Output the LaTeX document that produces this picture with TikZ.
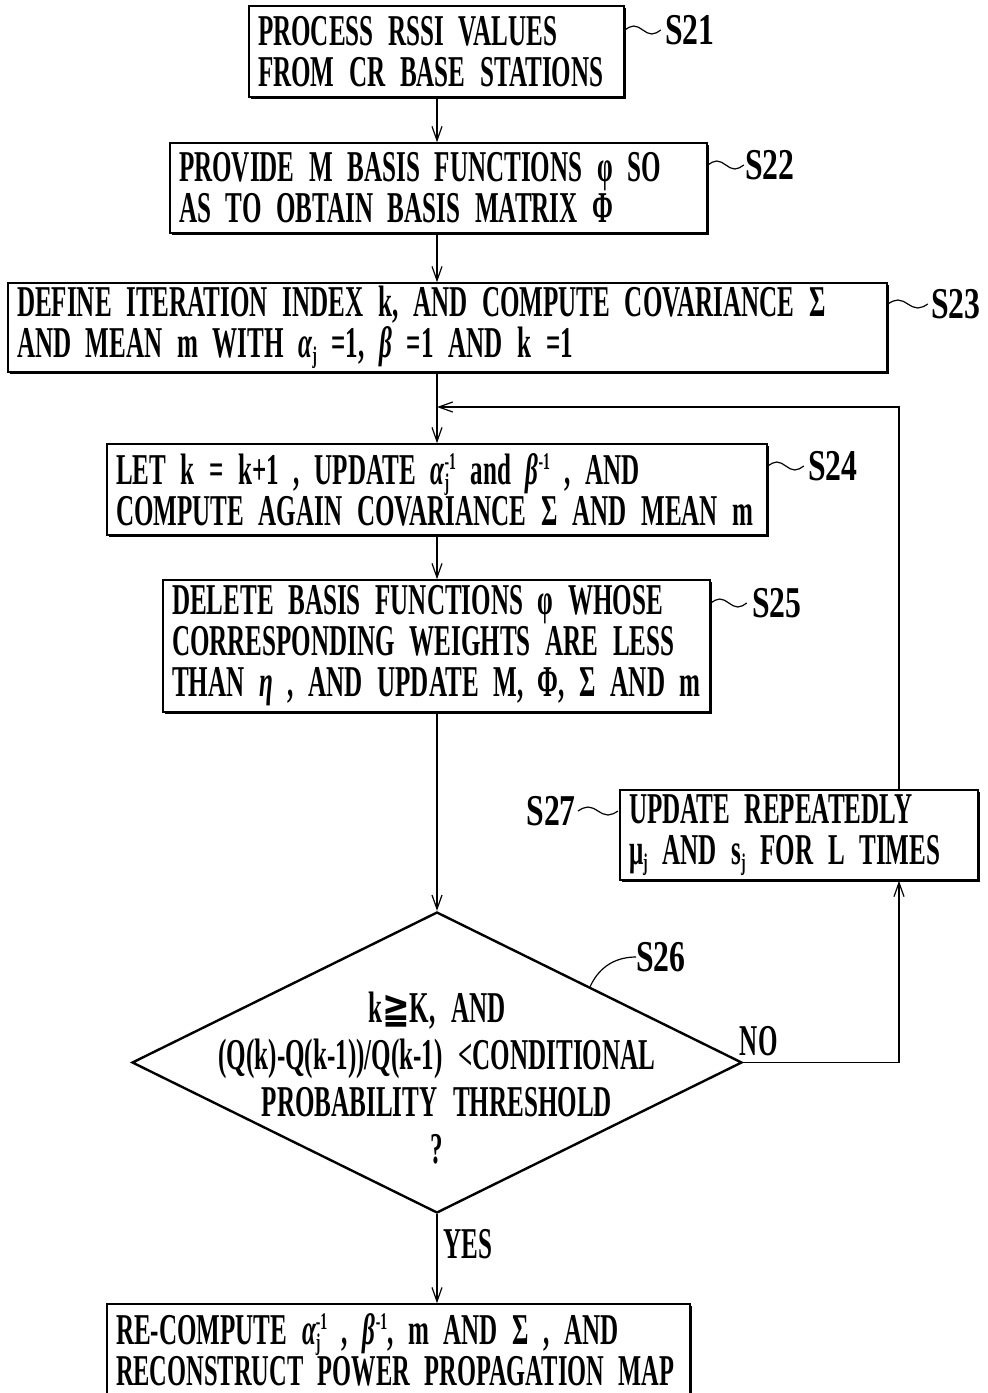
\documentclass[tikz,border=0pt]{standalone}
\usepackage{fontspec}
\usepackage{graphicx}
\usetikzlibrary{arrows.meta,shadows,shapes.geometric}
\newfontfamily\pfont{Liberation Serif}[FakeStretch=0.57,WordSpace=2.5]
\newfontfamily\lfont{Liberation Serif}[FakeStretch=0.72]
\newfontfamily\gfont{DejaVu Sans}[FakeStretch=0.75]
% Greek letters set in the running font
\newcommand\gi[1]{{\itshape #1}}
% small scripts that keep the line pitch
\newcommand\lowidx[1]{\raisebox{-6pt}{\fontsize{24}{24}\selectfont #1}}
\newcommand\hiidx[1]{\raisebox{15pt}{\fontsize{24}{24}\selectfont #1}}
\newcommand\supsub[2]{\rlap{\lowidx{#2}}\hiidx{#1}}
% fixed line pitch regardless of scripts
\newcommand\tightlines{\lineskiplimit=-60pt\relax\lineskip=0pt\relax}
\newcommand\stepfont{\pfont\bfseries\fontsize{44}{41}\selectfont\tightlines}

\begin{document}
\begin{tikzpicture}[x=1pt,y=-1pt,
  lbl/.style={font=\stepfont, inner sep=0pt},
  tag/.style={font=\lfont\bfseries\fontsize{44}{41}\selectfont, inner sep=0pt},
  box/.style={lbl, draw, line width=1.6pt, fill=white, align=left,
    inner xsep=9pt, inner ysep=0pt,
    drop shadow={shadow xshift=2.2pt, shadow yshift=-2.2pt, fill=black, opacity=1}},
  conn/.style={line width=1.2pt},
  arr/.style={conn, -{Straight Barb[length=14pt,width=10pt,line width=1.2pt]}},
  sq/.style={line width=1.2pt},
]
\useasboundingbox (0,0) rectangle (988,1393);
\clip (0,0) rectangle (988,1393);

% main column and loop corners
\coordinate (col) at (437,0);
\coordinate (jn) at (437,407);
\coordinate (lc) at (899,407);

% process boxes
\node[box, text width=357, minimum height=91] (s21) at (436.5,51.5)
  {PROCESS RSSI VALUES\\FROM CR BASE STATIONS};
\node[box, text width=519, minimum height=90] (s22) at (438.5,188)
  {PROVIDE M BASIS FUNCTIONS φ SO\\AS TO OBTAIN BASIS MATRIX Φ};
\node[box, text width=861, minimum height=89] (s23) at (447.5,327.5)
  {DEFINE ITERATION INDEX k, AND COMPUTE COVARIANCE Σ\\
   AND MEAN m WITH \gi{α}\lowidx{j} =1, \gi{β} =1 AND  k =1};
\node[box, text width=642, minimum height=91] (s24) at (437,489.5)
  {LET k = k+1 , UPDATE \gi{α}\supsub{-1}{j} and \gi{β}\hiidx{-1} , AND\\
   COMPUTE AGAIN COVARIANCE Σ AND MEAN m};
\node[box, text width=529, minimum height=132] (s25) at (436.5,646)
  {DELETE BASIS FUNCTIONS φ WHOSE\\
   CORRESPONDING WEIGHTS ARE LESS\\
   THAN \gi{η} , AND UPDATE M, Φ, Σ AND m};
\node[box, text width=340, minimum height=90] (s27) at (799,835)
  {UPDATE REPEATEDLY\\μ\lowidx{j} AND s\lowidx{j} FOR L TIMES};
\node[box, text width=565, minimum height=92] (s28) at (398.5,1350)
  {RE-COMPUTE \gi{α}\supsub{-1}{j} , \gi{β}\hiidx{-1}, m AND Σ , AND\\
   \scalebox{0.975}[1]{RECONSTRUCT POWER PROPAGATION MAP}};

% decision
\node[diamond, draw, line width=2.4pt, minimum width=610, minimum height=301,
  inner sep=0pt] (s26) at (437,1062.5) {};
\node[lbl, align=center, font=\pfont\bfseries\fontsize{44}{47}\selectfont]
  (s26t) at (437,1078)
  {k{\gfont ≧}K, AND\\(Q(k)-Q(k-1))/Q(k-1) <CONDITIONAL\\
   PROBABILITY THRESHOLD\\?};

% step labels
\node[tag, anchor=west] (l21) at (665,30) {S21};
\node[tag, anchor=west] (l22) at (745,165) {S22};
\node[tag, anchor=west] (l23) at (931,304) {S23};
\node[tag, anchor=west] (l24) at (808,466) {S24};
\node[tag, anchor=west] (l25) at (752,603) {S25};
\node[tag, anchor=east] (l27) at (576,811) {S27};
\node[tag, anchor=west] (l26) at (636,957) {S26};

\draw[sq] (s21.east |- l21.west) sin ++(9,-4) cos ++(9,4) sin ++(9,4) cos ++(9,-4);
\draw[sq] (s22.east |- l22.west) sin ++(9,-4) cos ++(9,4) sin ++(9,4) cos ++(9,-4);
\draw[sq] (s23.east |- l23.west) sin ++(10,-4) cos ++(10,4) sin ++(10,4) cos ++(10,-4);
\draw[sq] (s24.east |- l24.west) sin ++(9,-4) cos ++(9,4) sin ++(9,4) cos ++(9,-4);
\draw[sq] (s25.east |- l25.west) sin ++(9,-4) cos ++(9,4) sin ++(9,4) cos ++(9,-4);
\draw[sq] (l27.east) ++(2,0) sin ++(10,-4) cos ++(10,4) sin ++(10,4) cos ++(10,-4);
\draw[sq] (s26.north east) .. controls +(10,-22) and +(-18,0) .. (l26.west);

% connectors
\draw[arr] (s21.south -| col) -- (s22.north -| col);
\draw[arr] (s22.south -| col) -- (s23.north -| col);
\draw[arr] (s23.south -| col) -- (s24.north -| col);
\draw[arr] (s24.south -| col) -- (s25.north -| col);
\draw[arr] (s25.south -| col) -- (s26.north);
\draw[arr] (s26.south) -- node[lbl, pos=0.34, anchor=west, xshift=6pt] {YES} (s28.north -| col);
\draw[arr] (s26.east) -- node[lbl, pos=0.1, anchor=south, yshift=6pt] {NO} (s26.east -| lc) -- (s27.south -| lc);
\draw[arr] (s27.north -| lc) -- (lc) -- (jn);
\end{tikzpicture}
\end{document}
